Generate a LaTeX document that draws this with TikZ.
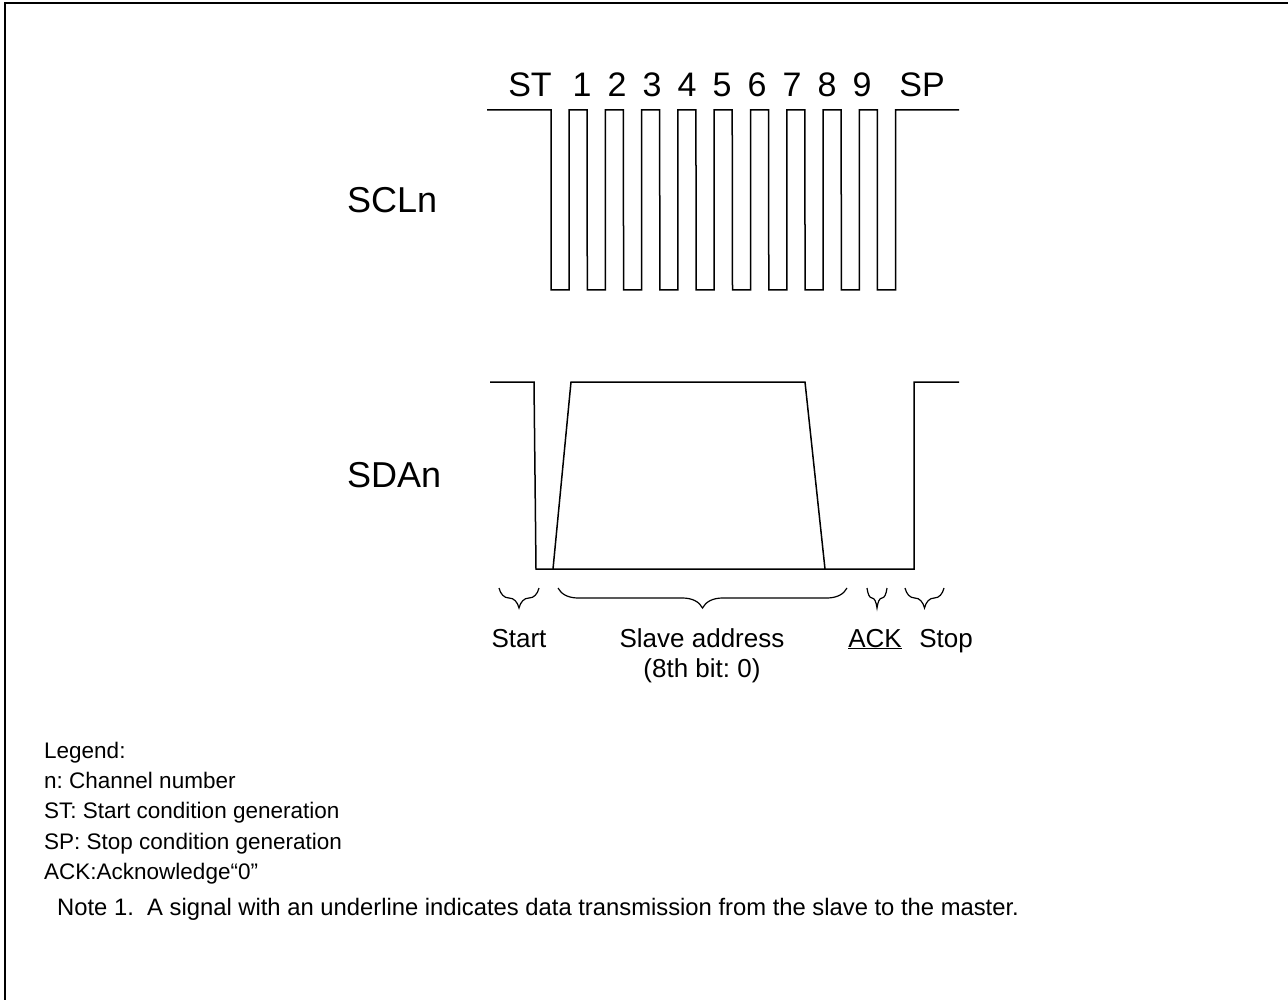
\documentclass[tikz,border=0pt]{standalone}
\usepackage{fontspec}
\setmainfont{Liberation Sans}
\usepackage{tikz}
\usetikzlibrary{calc, positioning, decorations.pathreplacing}
\frenchspacing

\begin{document}
\begin{tikzpicture}[x=1pt, y=-1pt, line join=miter,
    wave/.style={line width=1.5pt, black},
    brc/.style={line width=1.2pt, decorate, decoration={brace, amplitude=20pt, aspect=0.5}},
    sig/.style={anchor=base west, inner sep=0pt, font=\fontsize{36}{40}\selectfont},
    bitlbl/.style={anchor=base, inner sep=0pt, font=\fontsize{34}{38}\selectfont},
    phase/.style={anchor=base, inner sep=0pt, font=\fontsize{26}{30}\selectfont},
    legend/.style={anchor=base west, inner sep=0pt, font=\fontsize{22.5}{26}\selectfont}]
  \useasboundingbox (0,0) rectangle (1288,1000);

  % Frame
  \draw[line width=1.8pt] (5,1000) -- (5,3) -- (1288,3);

  % Signal names
  \node[sig] (scl) at (347,213) {SCLn};
  \node[sig] (sda) at (347,487) {SDAn};

  % Bit labels over SCLn
  \node[bitlbl] (bitST) at (530,97) {ST};
  \foreach \i in {1,...,9}
    \node[bitlbl] (bit\i) at ({582+35*(\i-1)},97) {\i};
  \node[bitlbl] (bitSP) at (922,97) {SP};

  % SCLn waveform
  \draw[wave] (487,110) -- (551,110)
    \foreach \k in {0,...,8} {
      -- ({551+36.3*\k},290) -- ({569+36.3*\k},290)
      -- ({569+36.3*\k},110) -- ({587+36.3*\k},110)
    }
    -- (877.4,290) -- (895.7,290) -- (895.7,110) -- (959,110);

  % SDAn waveform
  \coordinate (sdaHiL) at (490,382);
  \coordinate (sdaHiR) at (959,382);
  \draw[wave] (sdaHiL) -- (534,382) -- (536,569) -- (914,569) -- (914,382) -- (sdaHiR);
  \draw[wave] (553,569) -- (571,382) -- (805,382) -- (825,569);

  % Braces under SDAn
  \coordinate (startL) at (499,588);  \coordinate (startR) at (539,588);
  \coordinate (addrL)  at (558,588);  \coordinate (addrR)  at (847,588);
  \coordinate (ackL)   at (867,588);  \coordinate (ackR)   at (887,588);
  \coordinate (stopL)  at (905,588);  \coordinate (stopR)  at (944,588);
  \draw[brc] (startR) -- (startL);
  \draw[brc] (addrR) -- (addrL);
  \draw[brc] (ackR) -- (ackL);
  \draw[brc] (stopR) -- (stopL);

  % Phase labels
  \node[phase] (start) at (519,647) {Start};
  \node[phase] (addr)  at (702,647) {Slave address};
  \node[phase] (addrbit) at (702,677) {(8th bit: 0)};
  \node[phase] (ack)   at (875,647) {\underline{ACK}};
  \node[phase] (stop)  at (946,647) {Stop};

  % Legend
  \node[legend] (leg0) at (44,758) {Legend:};
  \node[legend] (leg1) at (44,788) {n: Channel number};
  \node[legend] (leg2) at (44,818) {ST: Start condition generation};
  \node[legend] (leg3) at (44,849) {SP: Stop condition generation};
  \node[legend] (leg4) at (44,879) {ACK:Acknowledge“0”};
  \node[legend, font=\fontsize{23.8}{28}\selectfont] (note) at (57,915)
    {Note 1.\ \ A signal with an underline indicates data transmission from the slave to the master.};
\end{tikzpicture}
\end{document}
